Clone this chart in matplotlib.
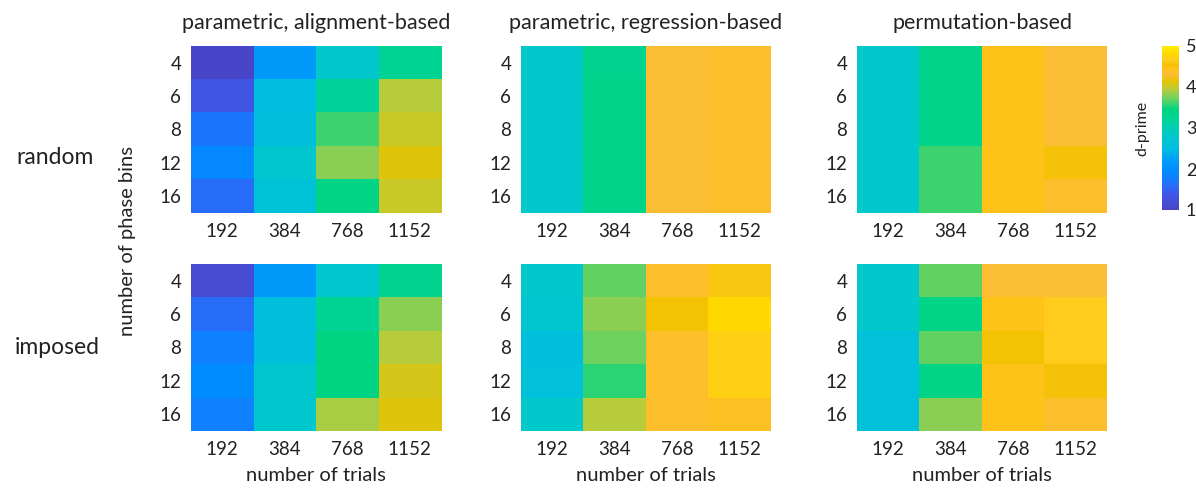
import numpy as np
import matplotlib
matplotlib.use('Agg')
import matplotlib.pyplot as plt
from matplotlib.colors import LinearSegmentedColormap, Normalize

plt.rcParams['font.family'] = ['Lato', 'DejaVu Sans']

# datos (d-prime), filas = fases, columnas = ensayos
trials = ['192', '384', '768', '1152']
phase_bins = ['4', '6', '8', '12', '16']
methods = ['parametric, alignment-based', 'parametric, regression-based',
           'permutation-based']
conditions = ['random', 'imposed']

random_align = [[1.05, 2.15, 2.8, 3.25],
                [1.35, 2.5, 3.2, 3.95],
                [1.7, 2.55, 3.6, 4.0],
                [1.9, 2.75, 3.8, 4.1],
                [1.6, 2.65, 3.4, 4.0]]
random_regr = [[2.8, 3.3, 4.3, 4.35],
               [2.8, 3.35, 4.3, 4.35],
               [2.8, 3.35, 4.3, 4.35],
               [2.8, 3.35, 4.3, 4.35],
               [2.8, 3.35, 4.3, 4.35]]
random_perm = [[2.8, 3.35, 4.45, 4.3],
               [2.8, 3.35, 4.45, 4.3],
               [2.8, 3.35, 4.45, 4.3],
               [2.8, 3.6, 4.45, 4.5],
               [2.8, 3.6, 4.45, 4.35]]
imposed_align = [[1.15, 2.15, 2.75, 3.3],
                 [1.6, 2.55, 3.25, 3.8],
                 [1.8, 2.55, 3.45, 3.95],
                 [1.95, 2.75, 3.45, 4.05],
                 [1.8, 2.75, 3.9, 4.1]]
imposed_regr = [[2.8, 3.7, 4.35, 4.6],
                [2.75, 3.8, 4.55, 4.8],
                [2.55, 3.72, 4.35, 4.7],
                [2.6, 3.55, 4.35, 4.7],
                [2.8, 3.95, 4.35, 4.4]]
imposed_perm = [[2.8, 3.7, 4.3, 4.3],
                [2.8, 3.4, 4.45, 4.65],
                [2.6, 3.7, 4.55, 4.65],
                [2.6, 3.4, 4.45, 4.5],
                [2.6, 3.8, 4.45, 4.35]]

datos = [[random_align, random_regr, random_perm],
         [imposed_align, imposed_regr, imposed_perm]]

# mapa de color tipo parula (muestreado de la barra de color)
vmin, vmax = 1, 5
puntos = [(1.0, '#4A44C4'), (1.4, '#3F58EA'), (1.7, '#1A78FF'),
          (1.95, '#008CFF'), (2.2, '#009CF8'), (2.5, '#00BEE0'),
          (2.8, '#00C8CC'), (3.2, '#00D49A'), (3.45, '#00D482'),
          (3.6, '#3CD470'), (3.8, '#88D055'), (3.95, '#B8CC3A'),
          (4.05, '#D4C81C'), (4.15, '#E6C400'), (4.3, '#FBBD35'),
          (4.45, '#FFC21A'), (4.55, '#F2C200'), (4.65, '#FFCC20'),
          (4.8, '#FFD700'), (5.0, '#FFF000')]
cmap = LinearSegmentedColormap.from_list(
    'parula_like', [((v - vmin) / (vmax - vmin), c) for v, c in puntos])
norm = Normalize(vmin=vmin, vmax=vmax)

fig = plt.figure(figsize=(11.96, 4.88), dpi=100)

W, H = 1196, 488
lefts = [191, 521, 857]
tops = [46, 264]
ancho, alto = 250, 167
txt = '#222222'

for i in range(2):
    for j in range(3):
        ax = fig.add_axes([lefts[j] / W, 1 - (tops[i] + alto) / H,
                           ancho / W, alto / H])
        im = ax.imshow(np.array(datos[i][j]), cmap=cmap, norm=norm,
                       aspect='auto', interpolation='nearest')
        ax.set_xticks(range(len(trials)))
        ax.set_xticklabels(trials)
        ax.set_yticks(range(len(phase_bins)))
        ax.set_yticklabels(phase_bins)
        ax.tick_params(length=0, labelsize=13.5, pad=7, colors=txt)
        for s in ax.spines.values():
            s.set_visible(False)
        if i == 0:
            ax.set_title(methods[j], fontsize=15.5, pad=12, color=txt)
        else:
            ax.set_xlabel('number of trials', fontsize=14.5, labelpad=7,
                          color=txt)

# etiquetas de fila
fig.text(55 / W, 1 - 158 / H, conditions[0], fontsize=16.5, ha='center',
         va='center', color=txt)
fig.text(57 / W, 1 - 348 / H, conditions[1], fontsize=16.5, ha='center',
         va='center', color=txt)
fig.text(128 / W, 1 - 241 / H, 'number of phase bins', fontsize=14.5,
         rotation=90, ha='center', va='center', color=txt)

# barra de color
cax = fig.add_axes([1162 / W, 1 - 210 / H, 17 / W, 164 / H])
cb = fig.colorbar(im, cax=cax, ticks=[1, 2, 3, 4, 5])
cb.outline.set_visible(False)
cb.ax.tick_params(length=0, labelsize=13, pad=5, colors=txt)
cb.ax.yaxis.set_ticks_position('right')
cb.ax.yaxis.set_label_position('left')
cb.set_label('d-prime', fontsize=11.5, labelpad=9, color=txt)

fig.savefig('out.png', dpi=100)
